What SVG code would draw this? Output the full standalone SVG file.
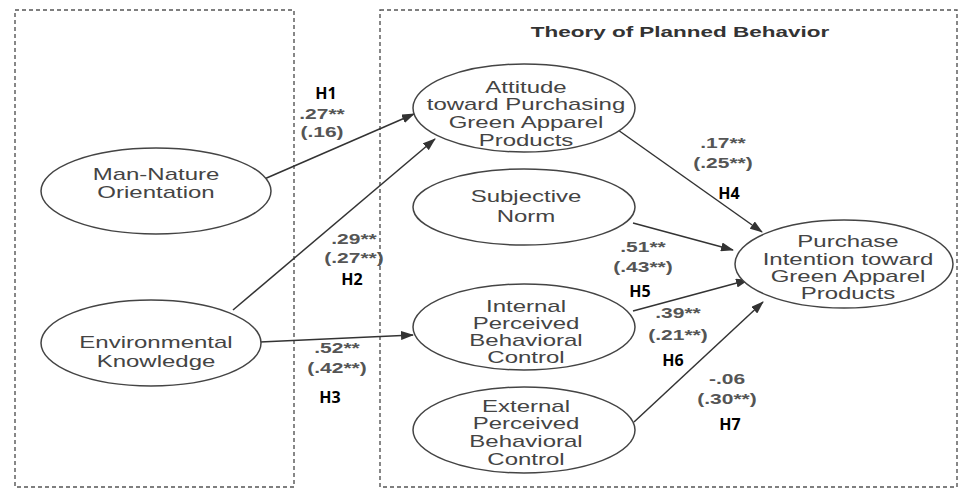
<svg xmlns="http://www.w3.org/2000/svg" width="959" height="489" viewBox="0 0 959 489">
<defs>
<marker id="ah" markerWidth="13" markerHeight="9" refX="12" refY="4.5" orient="auto" markerUnits="userSpaceOnUse">
<path d="M0,0 L13,4.5 L0,9 z" fill="#333"/>
</marker>
<style>
.box{fill:none;stroke:#555;stroke-width:1.4;stroke-dasharray:4,3}
.node{fill:#fff;stroke:#444;stroke-width:1.5}
.nt{font-family:"Liberation Sans",Arial,sans-serif;font-size:16px;fill:#444;text-anchor:middle}
.title{font-family:"Liberation Sans",Arial,sans-serif;font-size:15px;font-weight:bold;fill:#333;text-anchor:middle}
.cf{font-family:"Liberation Sans",Arial,sans-serif;font-size:14px;font-weight:bold;fill:#555;text-anchor:middle}
.h{font-family:"Open Sans","Noto Sans",sans-serif;font-size:16px;font-weight:bold;fill:#000;text-anchor:middle}
.edge{fill:none;stroke:#333;stroke-width:1.5;marker-end:url(#ah)}
</style>
</defs>
<rect width="959" height="489" fill="#fff"/>
<g id="boxes">
<rect class="box" x="15" y="10" width="279" height="477"/>
<rect class="box" x="380" y="10" width="577" height="477"/>
<g transform="translate(680,37) scale(1.5,1)"><text class="title" x="0" y="0">Theory of Planned Behavior</text></g>
</g>
<g id="connectors">
<line class="edge" x1="262" y1="180" x2="414" y2="114"/>
<line class="edge" x1="233" y1="310" x2="435" y2="139"/>
<line class="edge" x1="260" y1="342" x2="413" y2="335"/>
<line class="edge" x1="618" y1="130" x2="762" y2="232"/>
<line class="edge" x1="633" y1="223" x2="733" y2="250"/>
<line class="edge" x1="633" y1="311" x2="748" y2="280"/>
<line class="edge" x1="634" y1="422" x2="763" y2="302"/>
</g>
<g id="n-man-nature">
<ellipse class="node" cx="156" cy="191" rx="115" ry="43"/>
<g transform="translate(156,0) scale(1.5,1)"><text class="nt" x="0" y="180">Man-Nature</text><text class="nt" x="0" y="198">Orientation</text></g>
</g>
<g id="n-env-knowledge">
<ellipse class="node" cx="151" cy="343" rx="110" ry="43"/>
<g transform="translate(156,0) scale(1.5,1)"><text class="nt" x="0" y="348">Environmental</text><text class="nt" x="0" y="367">Knowledge</text></g>
</g>
<g id="n-attitude">
<ellipse class="node" cx="524" cy="108" rx="111" ry="44"/>
<g transform="translate(526,0) scale(1.5,1)"><text class="nt" x="0" y="93">Attitude</text><text class="nt" x="0" y="110">toward Purchasing</text><text class="nt" x="0" y="128">Green Apparel</text><text class="nt" x="0" y="146">Products</text></g>
</g>
<g id="n-subjective-norm">
<ellipse class="node" cx="524" cy="207" rx="111" ry="38"/>
<g transform="translate(526,0) scale(1.5,1)"><text class="nt" x="0" y="202">Subjective</text><text class="nt" x="0" y="222">Norm</text></g>
</g>
<g id="n-internal-pbc">
<ellipse class="node" cx="524" cy="327" rx="111" ry="43"/>
<g transform="translate(526,0) scale(1.5,1)"><text class="nt" x="0" y="312">Internal</text><text class="nt" x="0" y="329">Perceived</text><text class="nt" x="0" y="346">Behavioral</text><text class="nt" x="0" y="363">Control</text></g>
</g>
<g id="n-external-pbc">
<ellipse class="node" cx="524" cy="430" rx="111" ry="43"/>
<g transform="translate(526,0) scale(1.5,1)"><text class="nt" x="0" y="412">External</text><text class="nt" x="0" y="429">Perceived</text><text class="nt" x="0" y="447">Behavioral</text><text class="nt" x="0" y="465">Control</text></g>
</g>
<g id="n-purchase-intention">
<ellipse class="node" cx="844" cy="264" rx="109" ry="44"/>
<g transform="translate(848,0) scale(1.5,1)"><text class="nt" x="0" y="247">Purchase</text><text class="nt" x="0" y="265">Intention toward</text><text class="nt" x="0" y="282">Green Apparel</text><text class="nt" x="0" y="299">Products</text></g>
</g>
<g id="labels">
<text class="h" x="326" y="99">H1</text>
<g transform="translate(322,0) scale(1.5,1)"><text class="cf" x="0" y="119">.27**</text><text class="cf" x="0" y="137">(.16)</text></g>
<g transform="translate(354,0) scale(1.5,1)"><text class="cf" x="0" y="244">.29**</text><text class="cf" x="0" y="263">(.27**)</text></g>
<text class="h" x="352" y="285">H2</text>
<g transform="translate(337,0) scale(1.5,1)"><text class="cf" x="0" y="353">.52**</text><text class="cf" x="0" y="373">(.42**)</text></g>
<text class="h" x="330" y="403">H3</text>
<g transform="translate(723,0) scale(1.5,1)"><text class="cf" x="0" y="148">.17**</text><text class="cf" x="0" y="168">(.25**)</text></g>
<text class="h" x="729" y="199">H4</text>
<g transform="translate(643,0) scale(1.5,1)"><text class="cf" x="0" y="252">.51**</text><text class="cf" x="0" y="272">(.43**)</text></g>
<text class="h" x="640" y="297">H5</text>
<g transform="translate(678,0) scale(1.5,1)"><text class="cf" x="0" y="318">.39**</text><text class="cf" x="0" y="340">(.21**)</text></g>
<text class="h" x="673" y="366">H6</text>
<g transform="translate(727,0) scale(1.5,1)"><text class="cf" x="0" y="384">-.06</text><text class="cf" x="0" y="404">(.30**)</text></g>
<text class="h" x="730" y="430">H7</text>
</g>
</svg>
